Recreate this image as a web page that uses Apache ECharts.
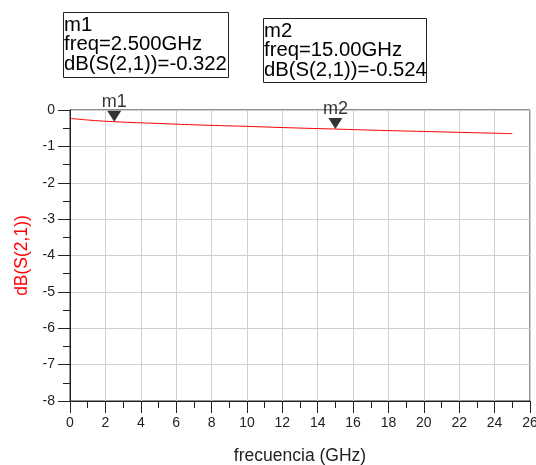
<!DOCTYPE html>
<html>
<head>
<meta charset="utf-8">
<script src="https://cdn.jsdelivr.net/npm/echarts@6/dist/echarts.min.js"></script>
<style>html,body{margin:0;padding:0;background:#fff;}#c{width:536px;height:465px;}</style>
</head>
<body>
<div id="c"></div>
<script>
// Data
var freqGHz = [0, 1, 2.5, 5, 7.5, 10, 12.5, 15, 17.5, 20, 22.5, 25];
var s21dB   = [-0.23, -0.275, -0.322, -0.37, -0.415, -0.45, -0.49, -0.524, -0.56, -0.59, -0.62, -0.65];
var markerNames = ['m1', 'm2'];
var markerFreq = [2.5, 15];
var markerVal = [-0.322, -0.524];
var markerFreqText = ['2.500GHz', '15.00GHz'];
var markerValText = ['-0.322', '-0.524'];
var xTicks = [0, 26, 2];
var yTicks = [-8, 0, 1];

var chart = echarts.init(document.getElementById('c'), null, {renderer: 'canvas'});
var FONT = '"Liberation Sans", Arial, sans-serif';

var lineData = freqGHz.map(function (f, i) { return [f, s21dB[i]]; });
var mkData = markerFreq.map(function (f, i) { return {name: markerNames[i], value: [f, markerVal[i]]}; });

var boxPos = [[63, 12], [263, 18]];
var boxSize = [[165, 65], [163, 64]];
var graphics = [];
markerNames.forEach(function (n, i) {
  graphics.push({
    type: 'group', left: boxPos[i][0], top: boxPos[i][1],
    children: [
      {type: 'rect', shape: {x: 0, y: 0, width: boxSize[i][0], height: boxSize[i][1]},
       style: {fill: '#fff', stroke: '#222', lineWidth: 1}},
      {type: 'text', x: 0.5, y: 3,
       style: {text: n + '\nfreq=' + markerFreqText[i] + '\ndB(S(2,1))=' + markerValText[i],
               font: '20.3px ' + FONT, fill: '#000', lineHeight: 19.5}}
    ]
  });
});

chart.setOption({
  backgroundColor: '#fff',
  animation: false,
  grid: {left: 70, right: 6, top: 110, bottom: 64, show: true, borderColor: '#222', borderWidth: 1,
         outerBoundsMode: 'none', containLabel: false},
  xAxis: {
    type: 'value', min: xTicks[0], max: xTicks[1], interval: xTicks[2],
    name: 'frecuencia (GHz)', nameLocation: 'middle', nameGap: 46,
    nameTextStyle: {fontFamily: FONT, fontSize: 17.5, color: '#222'},
    axisLine: {show: true, onZero: false, lineStyle: {color: '#222', width: 1}},
    axisTick: {show: true, inside: false, length: 12, lineStyle: {color: '#222'}},
    minorTick: {show: true, splitNumber: 2, length: 7, lineStyle: {color: '#222'}},
    axisLabel: {fontFamily: FONT, fontSize: 14, color: '#222', margin: 15, showMaxLabel: true},
    splitLine: {show: true, lineStyle: {color: '#cfcfcf', width: 1}}
  },
  yAxis: {
    type: 'value', min: yTicks[0], max: yTicks[1], interval: yTicks[2],
    name: 'dB(S(2,1))', nameLocation: 'middle', nameGap: 38, nameRotate: 90,
    nameTextStyle: {fontFamily: FONT, fontSize: 17.5, color: '#ff0000'},
    axisLine: {show: true, onZero: false, lineStyle: {color: '#222', width: 1}},
    axisTick: {show: true, inside: false, length: 12, lineStyle: {color: '#222'}},
    minorTick: {show: true, splitNumber: 2, length: 7, lineStyle: {color: '#222'}},
    axisLabel: {fontFamily: FONT, fontSize: 14, color: '#222', margin: 15},
    splitLine: {show: true, lineStyle: {color: '#cfcfcf', width: 1}}
  },
  series: [
    {
      type: 'line', data: lineData, showSymbol: false, smooth: true,
      lineStyle: {color: '#ff0000', width: 1}, z: 3
    },
    {
      type: 'scatter', data: mkData, symbol: 'triangle', symbolRotate: 180,
      symbolSize: [14, 11], symbolOffset: [0, -5.5],
      itemStyle: {color: '#000'}, z: 4,
      label: {show: true, position: 'top', distance: 0, formatter: '{b}',
              fontFamily: FONT, fontSize: 18, color: '#000'}
    }
  ],
  graphic: graphics
});
</script>
</body>
</html>
